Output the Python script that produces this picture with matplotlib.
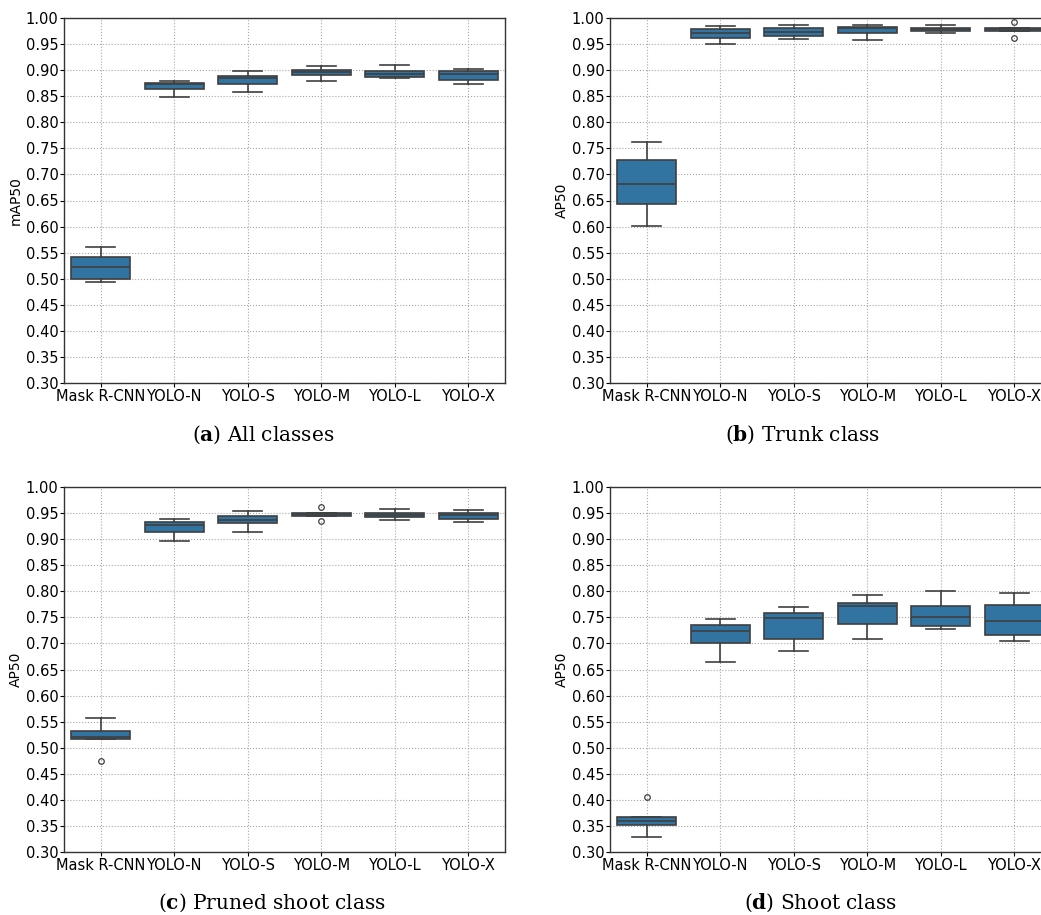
import matplotlib
matplotlib.use("Agg")
import matplotlib.pyplot as plt
import numpy as np

MODELS = ["Mask R-CNN", "YOLO-N", "YOLO-S", "YOLO-M", "YOLO-L", "YOLO-X"]

# (a) All classes - mAP50
ALL_WHISLO = [0.493, 0.848, 0.859, 0.880, 0.885, 0.874]
ALL_Q1 = [0.499, 0.864, 0.874, 0.890, 0.886, 0.882]
ALL_MED = [0.522, 0.873, 0.885, 0.897, 0.893, 0.892]
ALL_Q3 = [0.541, 0.876, 0.889, 0.901, 0.899, 0.898]
ALL_WHISHI = [0.561, 0.880, 0.898, 0.907, 0.909, 0.903]
ALL_FLIERS = [[], [], [], [], [], []]

# (b) Trunk class - AP50
TRUNK_WHISLO = [0.601, 0.951, 0.960, 0.958, 0.971, 0.975]
TRUNK_Q1 = [0.644, 0.961, 0.965, 0.972, 0.976, 0.976]
TRUNK_MED = [0.682, 0.972, 0.974, 0.980, 0.979, 0.979]
TRUNK_Q3 = [0.728, 0.978, 0.980, 0.983, 0.981, 0.981]
TRUNK_WHISHI = [0.763, 0.985, 0.987, 0.987, 0.987, 0.981]
TRUNK_FLIERS = [[], [], [], [], [], [0.992, 0.961]]

# (c) Pruned shoot class - AP50
PRUNED_WHISLO = [0.516, 0.897, 0.913, 0.945, 0.937, 0.932]
PRUNED_Q1 = [0.516, 0.914, 0.930, 0.945, 0.942, 0.939]
PRUNED_MED = [0.521, 0.927, 0.936, 0.948, 0.946, 0.947]
PRUNED_Q3 = [0.532, 0.932, 0.945, 0.950, 0.950, 0.951]
PRUNED_WHISHI = [0.557, 0.938, 0.954, 0.950, 0.957, 0.956]
PRUNED_FLIERS = [[0.475], [], [], [0.962, 0.934], [], []]

# (d) Shoot class - AP50
SHOOT_WHISLO = [0.329, 0.665, 0.686, 0.708, 0.728, 0.705]
SHOOT_Q1 = [0.352, 0.701, 0.708, 0.738, 0.734, 0.717]
SHOOT_MED = [0.360, 0.724, 0.749, 0.772, 0.751, 0.743]
SHOOT_Q3 = [0.368, 0.736, 0.758, 0.777, 0.772, 0.774]
SHOOT_WHISHI = [0.368, 0.746, 0.770, 0.792, 0.800, 0.797]
SHOOT_FLIERS = [[0.405], [], [], [], [], []]

BOX_COLOR = "#3274a1"
LINE_COLOR = "#3f3f3f"


def _stats(whislo, q1, med, q3, whishi, fliers):
    out = []
    for i in range(len(MODELS)):
        out.append(dict(whislo=whislo[i], q1=q1[i], med=med[i], q3=q3[i],
                        whishi=whishi[i], fliers=fliers[i]))
    return out


def _panel(ax, stats, ylabel):
    line = dict(color=LINE_COLOR, linewidth=1.2)
    ax.bxp(stats, positions=np.arange(len(MODELS)), widths=0.8, capwidths=0.4,
           patch_artist=True,
           boxprops=dict(facecolor=BOX_COLOR, edgecolor=LINE_COLOR, linewidth=1.2),
           medianprops=line, whiskerprops=line, capprops=line,
           flierprops=dict(marker="o", markersize=4, markerfacecolor="none",
                           markeredgecolor=LINE_COLOR, markeredgewidth=0.9))
    ax.set_xlim(-0.5, len(MODELS) - 0.5)
    ax.set_ylim(0.30, 1.00)
    ticks = np.arange(0.30, 1.0001, 0.05)
    ax.set_yticks(ticks)
    ax.set_yticklabels([f"{v:.2f}" for v in ticks])
    ax.set_xticks(np.arange(len(MODELS)))
    ax.set_xticklabels(MODELS)
    ax.tick_params(labelsize=10.5, length=3, pad=1)
    ax.set_ylabel(ylabel, fontsize=10, labelpad=2)
    ax.set_axisbelow(True)
    ax.grid(True, linestyle=":", color="#a8a8a8", linewidth=0.8)
    for s in ax.spines.values():
        s.set_color("#333333")
        s.set_linewidth(1.0)


W, H = 1041, 915
fig = plt.figure(figsize=(W / 100, H / 100), dpi=100)

panels = [
    (64, 18, _stats(ALL_WHISLO, ALL_Q1, ALL_MED, ALL_Q3, ALL_WHISHI, ALL_FLIERS), "mAP50",
     "a", " All classes", 263, 435),
    (610, 18, _stats(TRUNK_WHISLO, TRUNK_Q1, TRUNK_MED, TRUNK_Q3, TRUNK_WHISHI, TRUNK_FLIERS), "AP50",
     "b", " Trunk class", 803, 435),
    (64, 487, _stats(PRUNED_WHISLO, PRUNED_Q1, PRUNED_MED, PRUNED_Q3, PRUNED_WHISHI, PRUNED_FLIERS), "AP50",
     "c", " Pruned shoot class", 272, 903),
    (610, 487, _stats(SHOOT_WHISLO, SHOOT_Q1, SHOOT_MED, SHOOT_Q3, SHOOT_WHISHI, SHOOT_FLIERS), "AP50",
     "d", " Shoot class", 820, 903),
]

for left, top, stats, ylabel, letter, caption, cx, cy in panels:
    ax = fig.add_axes([left / W, 1 - (top + 365) / H, 441 / W, 365 / H])
    _panel(ax, stats, ylabel)
    fig.text(cx / W, 1 - cy / H,
             r"($\mathbf{" + letter + r"}$)" + caption,
             ha="center", va="center", fontsize=14.5, family="DejaVu Serif",
             math_fontfamily="dejavuserif")

fig.savefig("out.png", dpi=100)
